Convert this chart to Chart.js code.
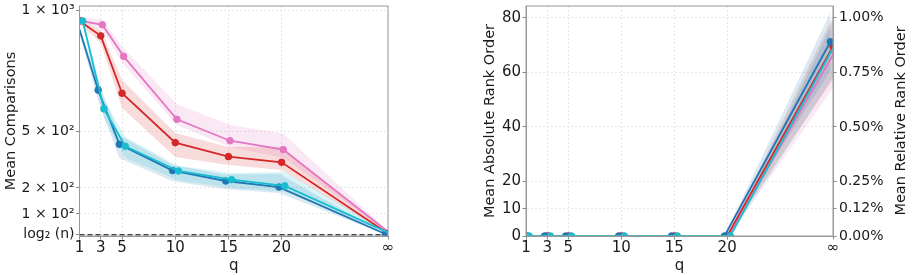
<!DOCTYPE html>
<html>
<head>
<meta charset="utf-8">
<script src="https://cdn.jsdelivr.net/npm/chart.js@4/dist/chart.umd.min.js"></script>
<style>
  html, body { margin: 0; padding: 0; background: #fff; }
  #wrap { position: relative; width: 912px; height: 275px; }
  canvas { position: absolute; top: 0; }
  #cmp { left: 0; }
  #rank { left: 440px; }
</style>
</head>
<body>
<div id="wrap">
  <canvas id="cmp" width="440" height="275"></canvas>
  <canvas id="rank" width="472" height="275"></canvas>
</div>
<script>
// q values; the last one is drawn at 30 and labelled infinity
const qTicks = [1, 3, 5, 10, 15, 20, 30];
const qTickLabels = ["1", "3", "5", "10", "15", "20", "\u221e"];

const N_ITEMS = 8000;
const LOG2N = Math.log2(N_ITEMS);

// left: mean comparisons (with band bounds)
const cmpBlue   = [958, 671, 431, 292, 237, 205, 16];
const cmpBlueLo = [947, 627, 357, 236, 195, 181, 14];
const cmpBlueHi = [968, 708, 480, 322, 272, 275, 18];
const cmpCyan   = [958, 593, 421, 290, 244, 211, 16];
const cmpCyanLo = [947, 554, 360, 240, 200, 186, 14];
const cmpCyanHi = [968, 632, 470, 318, 280, 285, 18];
const cmpRed    = [958, 896, 658, 440, 366, 336, 18];
const cmpRedLo  = [947, 866, 597, 364, 322, 295, 16];
const cmpRedHi  = [968, 920, 713, 491, 417, 418, 20];
const cmpPink   = [958, 942, 811, 550, 450, 403, 20];
const cmpPinkLo = [958, 921, 776, 526, 417, 360, 18];
const cmpPinkHi = [973, 963, 845, 613, 526, 489, 22];

const cmpTickValues = [LOG2N, 100, 200, 500, 1000];
const cmpTickLabels = ["log\u2082 (n)", "1 \u00d7 10\u00b2", "2 \u00d7 10\u00b2", "5 \u00d7 10\u00b2", "1 \u00d7 10\u00b3"];

// right: mean absolute rank order (with band bounds)
const rankBlue   = [0, 0, 0, 0, 0, 0, 71.2];
const rankBlueLo = [0, 0, 0, 0, 0, 0, 60.5];
const rankBlueHi = [0, 0, 0, 0, 0, 0, 81.9];
const rankCyan   = [0, 0, 0, 0, 0, 0, 71.0];
const rankCyanLo = [0, 0, 0, 0, 0, 0, 60.0];
const rankCyanHi = [0, 0, 0, 0, 0, 0, 81.5];
const rankRed    = [0, 0, 0, 0, 0, 0, 69.4];
const rankRedLo  = [0, 0, 0, 0, 0, 0, 57.5];
const rankRedHi  = [0, 0, 0, 0, 0, 0, 80.5];
const rankPink   = [0, 0, 0, 0, 0, 0, 67.5];
const rankPinkLo = [0, 0, 0, 0, 0, 0, 55.0];
const rankPinkHi = [0, 0, 0, 0, 0, 0, 79.0];

const rankTickValues = [0, 10, 20, 40, 60, 80];
const relTickValues = [0, 0.125, 0.25, 0.5, 0.75, 1.0];
const relTickLabels = ["0.00%", "0.12%", "0.25%", "0.50%", "0.75%", "1.00%"];
const RANK_MAX = 84.3;

// styling
const COLORS = { blue: "#1f77b4", cyan: "#17becf", red: "#d62728", pink: "#e377c2" };
const SHIFT = { blue: -0.25, cyan: 0.3, red: 0, pink: 0.15 };
const TXT = "#1a1a1a";
const FONT = 14;

Chart.defaults.font.family = "'DejaVu Sans', sans-serif";
Chart.defaults.font.size = FONT;
Chart.defaults.color = TXT;

// left axis of the comparisons plot is neither linear nor log in the source;
// map values through knots
const CMP_MAX = 1019.9;
const knotValues = [10, LOG2N, 100, 200, 500, 1000, CMP_MAX];
const knotFracs  = [0, 0.0057, 0.0957, 0.2087, 0.4552, 0.9791, 1];

function knotDecimal(v) {
  if (v <= knotValues[0]) return knotFracs[0];
  for (let i = 1; i < knotValues.length; i++) {
    if (v <= knotValues[i]) {
      const t = (v - knotValues[i - 1]) / (knotValues[i] - knotValues[i - 1]);
      return knotFracs[i - 1] + t * (knotFracs[i] - knotFracs[i - 1]);
    }
  }
  return 1;
}
function knotValue(d) {
  for (let i = 1; i < knotFracs.length; i++) {
    if (d <= knotFracs[i]) {
      const t = (d - knotFracs[i - 1]) / (knotFracs[i] - knotFracs[i - 1]);
      return knotValues[i - 1] + t * (knotValues[i] - knotValues[i - 1]);
    }
  }
  return knotValues[knotValues.length - 1];
}

class KnotScale extends Chart.LinearScale {
  getPixelForValue(value) {
    return this.getPixelForDecimal(knotDecimal(value));
  }
  getValueForPixel(pixel) {
    return knotValue(this.getDecimalForPixel(pixel));
  }
}
KnotScale.id = "knots";
KnotScale.defaults = Chart.LinearScale.defaults;
Chart.register(KnotScale);

function pts(vals, shift) {
  return qTicks.map((q, i) => ({ x: q + shift, y: vals[i] }));
}

function lineSet(key, vals) {
  return {
    data: pts(vals, SHIFT[key]),
    borderColor: COLORS[key],
    backgroundColor: COLORS[key],
    borderWidth: 1.8,
    pointRadius: 3.3,
    pointBorderWidth: 1,
    pointBorderColor: COLORS[key],
    pointBackgroundColor: COLORS[key],
    tension: 0,
    fill: false
  };
}

function bandSets(key, lo, hi) {
  const c = COLORS[key];
  const r = parseInt(c.slice(1, 3), 16), g = parseInt(c.slice(3, 5), 16), b = parseInt(c.slice(5, 7), 16);
  const base = { borderColor: "transparent", borderWidth: 0, pointRadius: 0, tension: 0 };
  return [
    Object.assign({ data: pts(lo, SHIFT[key]), fill: false }, base),
    Object.assign({ data: pts(hi, SHIFT[key]), fill: "-1", backgroundColor: `rgba(${r},${g},${b},0.16)` }, base)
  ];
}

function xAxis() {
  return {
    type: "linear",
    min: 1,
    max: 30,
    afterBuildTicks: s => { s.ticks = qTicks.map(v => ({ value: v })); },
    afterFit: s => { s.height = 39; s.paddingLeft = 0; s.paddingRight = 0; },
    ticks: { callback: (v, i) => qTickLabels[i], padding: 0, maxRotation: 0, autoSkip: false, font: { size: 15 } },
    grid: { color: "#e6e6e6", tickColor: "#888", tickLength: 3.5 },
    border: { color: "#999", dash: [2, 2] },
    title: { display: true, text: "q", padding: { top: 3, bottom: 0 }, font: { size: 15 } }
  };
}

const framePlugin = {
  id: "frame",
  afterDatasetsDraw(chart) {
    const { ctx, chartArea: a } = chart;
    ctx.save();
    ctx.strokeStyle = "#999";
    ctx.lineWidth = 1;
    ctx.strokeRect(a.left, a.top, a.right - a.left, a.bottom - a.top);
    ctx.restore();
  }
};

const rightTitlePlugin = {
  id: "rightTitle",
  afterDraw(chart) {
    const { ctx, chartArea: a } = chart;
    ctx.save();
    ctx.translate(461, (a.top + a.bottom) / 2);
    ctx.rotate(-Math.PI / 2);
    ctx.font = `14.5px 'DejaVu Sans', sans-serif`;
    ctx.fillStyle = TXT;
    ctx.textAlign = "center";
    ctx.textBaseline = "middle";
    ctx.fillText("Mean Relative Rank Order", 0, 0);
    ctx.restore();
  }
};

// left chart
new Chart(document.getElementById("cmp"), {
  type: "line",
  data: {
    datasets: [
      lineSet("cyan", cmpCyan),
      lineSet("blue", cmpBlue),
      lineSet("red", cmpRed),
      lineSet("pink", cmpPink),
      {
        data: [{ x: 1, y: LOG2N }, { x: 30, y: LOG2N }],
        borderColor: "#444",
        borderWidth: 1.5,
        borderDash: [5, 3],
        pointRadius: 0,
        fill: false
      },
      ...bandSets("cyan", cmpCyanLo, cmpCyanHi),
      ...bandSets("blue", cmpBlueLo, cmpBlueHi),
      ...bandSets("red", cmpRedLo, cmpRedHi),
      ...bandSets("pink", cmpPinkLo, cmpPinkHi)
    ]
  },
  options: {
    responsive: false,
    animation: false,
    layout: { padding: { top: 6, right: 52, left: 0, bottom: 0 } },
    plugins: { legend: { display: false }, tooltip: { enabled: false } },
    scales: {
      x: xAxis(),
      y: {
        type: "knots",
        min: 10,
        max: CMP_MAX,
        afterBuildTicks: s => { s.ticks = cmpTickValues.map(v => ({ value: v })); },
        afterFit: s => { s.width = 79.5; s.paddingTop = 0; s.paddingBottom = 0; },
        ticks: { callback: (v, i) => cmpTickLabels[i], padding: 1.5, autoSkip: false },
        grid: { color: "#e6e6e6", tickColor: "#888", tickLength: 3.5 },
        border: { color: "#999", dash: [2, 2] },
        title: { display: true, text: "Mean Comparisons", padding: { top: 2.6, bottom: 0 }, font: { size: 14.5 } }
      }
    }
  },
  plugins: [framePlugin]
});

// right chart
new Chart(document.getElementById("rank"), {
  type: "line",
  data: {
    datasets: [
      lineSet("cyan", rankCyan),
      lineSet("blue", rankBlue),
      lineSet("red", rankRed),
      lineSet("pink", rankPink),
      ...bandSets("cyan", rankCyanLo, rankCyanHi),
      ...bandSets("blue", rankBlueLo, rankBlueHi),
      ...bandSets("red", rankRedLo, rankRedHi),
      ...bandSets("pink", rankPinkLo, rankPinkHi)
    ]
  },
  options: {
    responsive: false,
    animation: false,
    layout: { padding: { top: 6, right: 0, left: 0, bottom: 0 } },
    plugins: { legend: { display: false }, tooltip: { enabled: false } },
    scales: {
      x: xAxis(),
      y: {
        type: "linear",
        position: "left",
        min: 0,
        max: RANK_MAX,
        afterBuildTicks: s => { s.ticks = rankTickValues.map(v => ({ value: v })); },
        afterFit: s => { s.width = 86; s.paddingTop = 0; s.paddingBottom = 0; },
        ticks: { padding: 1.5, autoSkip: false, font: { size: 15 } },
        grid: { color: "#e6e6e6", tickColor: "#888", tickLength: 3.5 },
        border: { color: "#999", dash: [2, 2] },
        title: { display: true, text: "Mean Absolute Rank Order", padding: { top: 41.3, bottom: 0 }, font: { size: 14.5 } }
      },
      y2: {
        type: "linear",
        position: "right",
        min: 0,
        max: RANK_MAX / N_ITEMS * 100,
        afterBuildTicks: s => { s.ticks = relTickValues.map(v => ({ value: v })); },
        afterFit: s => { s.width = 79; s.paddingTop = 0; s.paddingBottom = 0; },
        ticks: { callback: (v, i) => relTickLabels[i], padding: 2.5, autoSkip: false },
        grid: { drawOnChartArea: false, tickColor: "#888", tickLength: 3.5 },
        border: { color: "#999" }
      }
    }
  },
  plugins: [framePlugin, rightTitlePlugin]
});
</script>
</body>
</html>
